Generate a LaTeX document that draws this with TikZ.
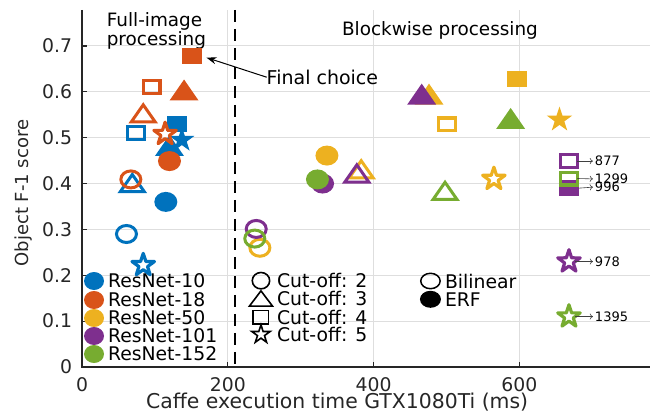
\documentclass[tikz,border=0pt]{standalone}
\usepackage{fontspec}
\setmainfont{DejaVu Sans}
\usetikzlibrary{shapes.geometric,arrows.meta}
\definecolor{c10}{rgb}{0,0.447,0.741}
\definecolor{c18}{rgb}{0.85,0.325,0.098}
\definecolor{c50}{rgb}{0.929,0.694,0.125}
\definecolor{c101}{rgb}{0.494,0.184,0.556}
\definecolor{c152}{rgb}{0.466,0.674,0.188}
\definecolor{axgray}{rgb}{0.15,0.15,0.15}
\definecolor{gridgray}{rgb}{0.87,0.87,0.87}
\begin{document}
\begin{tikzpicture}[
   x=0.3645pt, y=229.3pt,
   every node/.style={inner sep=0pt, outer sep=0pt},
   txt/.style={font=\fontsize{9.2}{9.5}\selectfont, text=black},
   tick/.style={font=\fontsize{9.4}{11}\selectfont, text=axgray},
   lbl/.style={font=\fontsize{10.2}{12}\selectfont, text=axgray},
   far/.style={font=\fontsize{6.5}{8}\selectfont, text=black, anchor=west},
   farr/.style={-{To[length=1.6pt,width=3pt]}, line width=0.3pt, draw=black!75, shorten >=1pt},
   gridline/.style={draw=gridgray, line width=0.5pt},
   axisline/.style={draw=axgray, line width=0.6pt},
   ec/.style={ellipse, fill=#1, minimum width=11.5pt, minimum height=10pt},
   bc/.style={ellipse, draw=#1, line width=1.5pt, minimum width=10pt, minimum height=8.5pt},
   es/.style={rectangle, fill=#1, minimum width=10pt, minimum height=8pt},
   bs/.style={rectangle, draw=#1, line width=1.6pt, minimum width=8.4pt, minimum height=6.4pt},
   et/.style={isosceles triangle, isosceles triangle stretches, shape border rotate=90, fill=#1,
              minimum width=14.5pt, minimum height=10.5pt, anchor=lower side, yshift=-5.25pt},
   bt/.style={isosceles triangle, isosceles triangle stretches, shape border rotate=90, draw=#1,
              line width=1.5pt, minimum width=12pt, minimum height=8.6pt, anchor=lower side, yshift=-4.3pt},
   ep/.style={star, star points=5, star point ratio=2.6, fill=#1, minimum size=13.2pt},
   bp/.style={star, star points=5, star point ratio=2.6, draw=#1, line width=1.6pt, line join=round, minimum size=11.8pt},
   dot/.style={ellipse, fill=#1, minimum width=10pt, minimum height=9pt}]
\useasboundingbox (-41pt,-22pt) rectangle (284pt,183.5pt);
% grid
\draw[gridline] (0,0.1) -- (780,0.1) (0,0.2) -- (780,0.2) (0,0.3) -- (780,0.3) (0,0.4) -- (780,0.4)
   (0,0.5) -- (780,0.5) (0,0.6) -- (780,0.6) (0,0.7) -- (780,0.7)
   (200,0) -- (200,0.7785) (400,0) -- (400,0.7785) (600,0) -- (600,0.7785);
% axes
\draw[axisline] (0,0.7785) -- (0,0) -- (780,0);
\draw[axisline] (0,0.1) -- ++(2.5pt,0) (0,0.2) -- ++(2.5pt,0) (0,0.3) -- ++(2.5pt,0) (0,0.4) -- ++(2.5pt,0)
   (0,0.5) -- ++(2.5pt,0) (0,0.6) -- ++(2.5pt,0) (0,0.7) -- ++(2.5pt,0)
   (200,0) -- ++(0,2.5pt) (400,0) -- ++(0,2.5pt) (600,0) -- ++(0,2.5pt);
\node[tick, anchor=east, xshift=-5pt] (y0) at (0,0) {0};
\node[tick, anchor=east, xshift=-5pt] (y1) at (0,0.1) {0.1};
\node[tick, anchor=east, xshift=-5pt] (y2) at (0,0.2) {0.2};
\node[tick, anchor=east, xshift=-5pt] (y3) at (0,0.3) {0.3};
\node[tick, anchor=east, xshift=-5pt] (y4) at (0,0.4) {0.4};
\node[tick, anchor=east, xshift=-5pt] (y5) at (0,0.5) {0.5};
\node[tick, anchor=east, xshift=-5pt] (y6) at (0,0.6) {0.6};
\node[tick, anchor=east, xshift=-5pt] (y7) at (0,0.7) {0.7};
\node[tick, yshift=-8.6pt] (x0) at (0,0) {0};
\node[tick, yshift=-8.6pt] (x200) at (200,0) {200};
\node[tick, yshift=-8.6pt] (x400) at (400,0) {400};
\node[tick, yshift=-8.6pt] (x600) at (600,0) {600};
\node[lbl] (xlab) at (350,-0.0755) {Caffe execution time GTX1080Ti (ms)};
\node[lbl, font=\fontsize{9}{11}\selectfont, rotate=90] (ylab) at (-79.6,0.379) {Object F-1 score};
% split between the two regimes
\draw[black, line width=0.6pt, dash pattern=on 6pt off 3.5pt] (210,0.7785) -- (210,0);
\node[txt, align=left, anchor=north west] (full) at (34,0.7732) {Full-image\\processing};
\node[txt, anchor=base west] (block) at (356.7,0.7218) {Blockwise processing};
% ResNet-10
\node[bc=c10] (r10b2) at (61,0.29) {};
\node[ec=c10] (r10e2) at (115,0.36) {};
\node[bt=c10] (r10b3) at (69,0.401) {};
\node[et=c10] (r10e3) at (120,0.483) {};
\node[bs=c10] (r10b4) at (74,0.51) {};
\node[es=c10] (r10e4) at (130,0.53) {};
\node[bp=c10] (r10b5) at (84,0.222) {};
\node[ep=c10] (r10e5) at (137,0.495) {};
% ResNet-18
\node[bc=c18] (r18b2) at (67,0.409) {};
\node[ec=c18] (r18e2) at (120,0.449) {};
\node[bt=c18] (r18b3) at (84,0.553) {};
\node[et=c18] (r18e3) at (140,0.604) {};
\node[bs=c18] (r18b4) at (95.6,0.61) {};
\node[es=c18] (r18e4) at (150.5,0.678) {};
\node[bp=c18] (r18b5) at (114,0.508) {};
% ResNet-50
\node[bc=c50] (r50b2) at (244,0.26) {};
\node[ec=c50] (r50e2) at (336,0.461) {};
\node[bt=c50] (r50b3) at (383,0.431) {};
\node[et=c50] (r50e3) at (476,0.595) {};
\node[bs=c50] (r50b4) at (501,0.529) {};
\node[es=c50] (r50e4) at (597,0.628) {};
\node[bp=c50] (r50b5) at (565,0.41) {};
\node[ep=c50] (r50e5) at (655,0.539) {};
% ResNet-101
\node[bc=c101] (r101b2) at (239,0.301) {};
\node[ec=c101] (r101e2) at (330,0.40) {};
\node[bt=c101] (r101b3) at (377,0.422) {};
\node[et=c101] (r101e3) at (466,0.595) {};
\node[bs=c101] (r101b4) at (668,0.449) {};
\node[es=c101] (r101e4) at (668,0.39) {};
\node[bp=c101] (r101b5) at (668,0.23) {};
% ResNet-152
\node[bc=c152] (r152b2) at (237,0.28) {};
\node[ec=c152] (r152e2) at (323,0.409) {};
\node[bt=c152] (r152b3) at (498,0.384) {};
\node[et=c152] (r152e3) at (588,0.542) {};
\node[bs=c152] (r152b4) at (668,0.411) {};
\node[bp=c152] (r152b5) at (668,0.11) {};
% off-scale times
\node[far] (l877) at (703.7,0.449) {877};
\node[far] (l1299) at (703.7,0.410) {1299};
\node[far] (l996) at (703.7,0.3925) {996};
\node[far] (l978) at (703.7,0.23) {978};
\node[far] (l1395) at (703.7,0.11) {1395};
\draw[farr] (r101b4.east) -- (l877.west);
\draw[farr] (r152b4.east) -- (l1299.west);
\draw[farr] (r101e4.east) -- (l996.west);
\draw[farr] (r101b5.east) -- (l978.west);
\draw[farr] (r152b5.east) -- (l1395.west);
% final choice
\node[txt, font=\fontsize{9.5}{11}\selectfont, anchor=base west] (final) at (253.4,0.6164) {Final choice};
\draw[-{Stealth[length=5pt,width=3.5pt]}, line width=0.5pt, shorten >=2.5pt] (final.west) -- (r18e4.east);
% legend: networks
\node[dot=c10] (g10) at (16.5,0.1875) {};
\node[dot=c18] (g18) at (16.5,0.1461) {};
\node[dot=c50] (g50) at (16.5,0.1068) {};
\node[dot=c101] (g101) at (16.5,0.0676) {};
\node[dot=c152] (g152) at (16.5,0.0283) {};
\node[txt, font=\fontsize{9.4}{11}\selectfont, anchor=west] (t10) at (35.7,0.1875) {ResNet-10};
\node[txt, font=\fontsize{9.4}{11}\selectfont, anchor=west] (t18) at (35.7,0.1461) {ResNet-18};
\node[txt, font=\fontsize{9.4}{11}\selectfont, anchor=west] (t50) at (35.7,0.1068) {ResNet-50};
\node[txt, font=\fontsize{9.4}{11}\selectfont, anchor=west] (t101) at (35.7,0.0676) {ResNet-101};
\node[txt, font=\fontsize{9.4}{11}\selectfont, anchor=west] (t152) at (35.7,0.0283) {ResNet-152};
% legend: cut-off
\node[ellipse, draw=black, line width=0.8pt, minimum width=8.7pt, minimum height=8.2pt] (k2) at (245.5,0.1882) {};
\node[isosceles triangle, isosceles triangle stretches, shape border rotate=90, draw=black, line width=0.8pt,
      minimum width=11.5pt, minimum height=7.6pt, anchor=lower side, yshift=-3.8pt] (k3) at (245.5,0.1494) {};
\node[rectangle, draw=black, line width=0.8pt, minimum width=7.7pt, minimum height=6.7pt] (k4) at (245.5,0.109) {};
\node[star, star points=5, star point ratio=2.6, draw=black, line width=0.8pt, minimum size=9.6pt] (k5) at (245.5,0.0709) {};
\node[txt, font=\fontsize{9.4}{11}\selectfont, anchor=west] (tk2) at (267.5,0.1882) {Cut-off: 2};
\node[txt, font=\fontsize{9.4}{11}\selectfont, anchor=west] (tk3) at (267.5,0.1494) {Cut-off: 3};
\node[txt, font=\fontsize{9.4}{11}\selectfont, anchor=west] (tk4) at (267.5,0.109) {Cut-off: 4};
\node[txt, font=\fontsize{9.4}{11}\selectfont, anchor=west] (tk5) at (267.5,0.0709) {Cut-off: 5};
% legend: interpolation
\node[ellipse, draw=black, line width=0.75pt, minimum width=9.7pt, minimum height=7.7pt] (bil) at (478,0.1875) {};
\node[ellipse, fill=black, minimum width=10.5pt, minimum height=8.5pt] (erf) at (478,0.1476) {};
\node[txt, font=\fontsize{9.4}{11}\selectfont, anchor=west] (tbil) at (498,0.1875) {Bilinear};
\node[txt, font=\fontsize{9.4}{11}\selectfont, anchor=west] (terf) at (498,0.1476) {ERF};
\end{tikzpicture}
\end{document}
